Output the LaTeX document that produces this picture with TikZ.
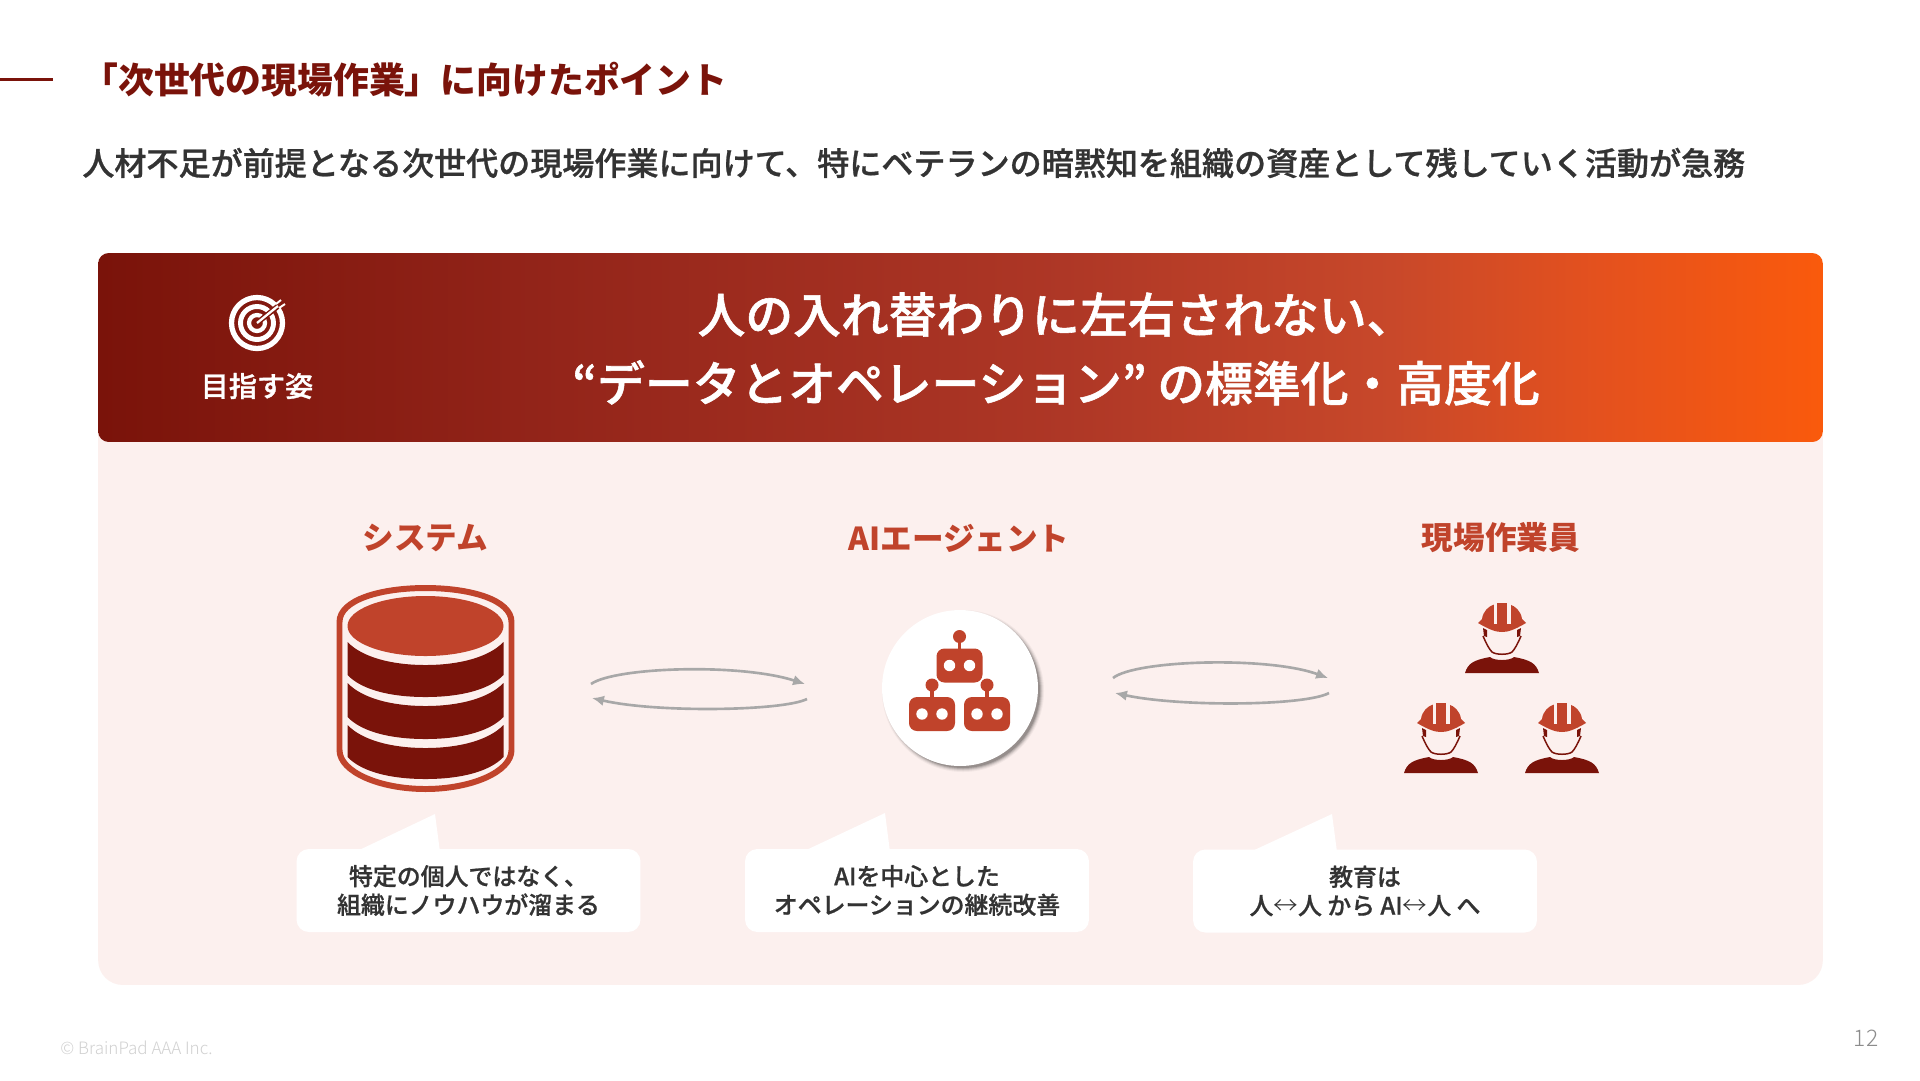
\documentclass[tikz,border=0pt]{standalone}
\usepackage{fontspec}
\setmainfont{Noto Sans CJK JP}
\newfontfamily\mediumjp{Noto Sans CJK JP Medium}[FakeBold=0.8]
\newfontfamily\headjp{Noto Sans CJK JP Medium}[FakeBold=1.2]
\newfontfamily\lightjp{Noto Sans CJK JP Light}
\usetikzlibrary{positioning,arrows.meta}
\definecolor{brick}{HTML}{C0432B}
\definecolor{darkbrick}{HTML}{7A130A}
\definecolor{panelpink}{HTML}{FCF0EE}
\definecolor{bodytext}{HTML}{333333}
\definecolor{loopgray}{HTML}{A8A8A8}
\definecolor{fadea}{HTML}{94251A}
\definecolor{fadeb}{HTML}{AE3726}
\definecolor{fadec}{HTML}{C8482A}
\definecolor{faded}{HTML}{E4511E}
\definecolor{fadee}{HTML}{FA5A0C}
\pgfdeclarehorizontalshading{bannerfade}{100bp}{
  color(0bp)=(darkbrick);
  color(25bp)=(darkbrick);
  color(38.5bp)=(fadea);
  color(53bp)=(fadeb);
  color(62.5bp)=(fadec);
  color(68.5bp)=(faded);
  color(75bp)=(fadee);
  color(100bp)=(fadee)
}
\tikzset{
  looparrow/.style={-{Latex[length=6.8pt,width=6pt]}, line width=1.5pt, color=loopgray},
  headlabel/.style={font=\fontsize{18}{21}\selectfont\bfseries, text=brick, inner sep=0pt},
  callout/.style={fill=white, rounded corners=7pt, minimum width=6.88cm, minimum height=1.66cm, align=center, inner sep=0pt, text=bodytext, font=\mediumjp\fontsize{13.6}{16.3}\selectfont},
  tailfill/.style={fill=white},
  robot/.pic={
    \fill[brick, rounded corners=4.5pt] (-23,-17) rectangle (23,17);
    \fill[brick] (-1.7,-28) rectangle (1.7,-15);
    \fill[brick] (0,-29) circle[radius=6.5];
    \fill[white] (-10,0) circle[radius=5.7];
    \fill[white] (10,0) circle[radius=5.7];
  },
  worker/.pic={
    \fill[brick] (-24,20) -- (-20,16) .. controls (-19,8) and (-13,3) .. (-8,1.5) -- (8,1.5) .. controls (13,3) and (19,8) .. (20,16) -- (24,20) .. controls (12,27) and (6,29) .. (0,29) .. controls (-6,29) and (-12,27) .. (-24,20) -- cycle;
    \fill[brick] (-5,0) rectangle (5,5);
    \fill[panelpink] (-8.5,0) rectangle (-5,21);
    \fill[panelpink] (5,0) rectangle (8.5,21);
    \fill[darkbrick] (-19,25) -- (-15,27) -- (-15,34) -- (-18,33) -- cycle;
    \fill[darkbrick] (19,25) -- (15,27) -- (15,34) -- (18,33) -- cycle;
    \draw[darkbrick, line width=0.85pt] (-19,33) .. controls (-16,40) and (-13,46) .. (-10,49) .. controls (-6,52) and (6,52) .. (10,49) .. controls (13,46) and (16,40) .. (19,33);
    \fill[darkbrick] (-37,70) .. controls (-34,60) and (-28,57) .. (-12,54) .. controls (-8,58) and (8,58) .. (12,54) .. controls (28,57) and (34,60) .. (37,70) -- cycle;
  }
}
\begin{document}
\begin{tikzpicture}[x=0.02cm, y=-0.02cm, >=Latex, every node/.style={inner sep=0pt}]
  \useasboundingbox (0,0) rectangle (1920,1080);
  \fill[white] (0,0) rectangle (1920,1080);

  \draw[darkbrick, line width=1.2pt] (0,79.5) -- (53,79.5);
  \node[anchor=west, text=darkbrick, font=\fontsize{20.4}{24}\selectfont\bfseries] (title) at (82,80) {「次世代の現場作業」に向けたポイント};
  \node[anchor=west, text=bodytext, font=\mediumjp\fontsize{18.25}{22}\selectfont] (subtitle) at (82,163) {人材不足が前提となる次世代の現場作業に向けて、特にベテランの暗黙知を組織の資産として残していく活動が急務};

  \node[fill=panelpink, rounded corners=14pt, minimum width=34.5cm, minimum height=11.6cm] (panel) at (960.5,695) {};
  \node[shading=bannerfade, rounded corners=6pt, minimum width=34.5cm, minimum height=3.78cm] (banner) at (960.5,347.5) {};

  \draw[white, line width=3pt] (257,323) circle[radius=25.5];
  \draw[white, line width=2.8pt] (257,323) circle[radius=16.5];
  \draw[white, line width=2.4pt] (257,323) circle[radius=8];
  \draw[darkbrick!90!brick, line width=3pt] (257,323) -- (282,303);
  \draw[white, line width=1.3pt] (257,323) -- (278,306);
  \draw[white, line width=1.1pt] (276,304) -- (281,300);
  \draw[white, line width=1.1pt] (279,308) -- (285,304);
  \node[text=white, font=\headjp\fontsize{16}{18}\selectfont] (goal) at (257,386) {目指す姿};
  \node[text=white, align=center, font=\headjp\fontsize{27.2}{39}\selectfont] (headline) at (1056,349) {人の入れ替わりに左右されない、\\“データとオペレーション” の標準化・高度化};

  \node[headlabel] (syslabel) at (425.5,538) {システム};
  \node[headlabel] (agentlabel) at (959,538) {AIエージェント};
  \node[headlabel] (stafflabel) at (1501,538) {現場作業員};

  \draw[brick, line width=3.4pt] (339.5,622) .. controls (339.5,600) and (380,588) .. (425.5,588) .. controls (471,588) and (511.5,600) .. (511.5,622) -- (511.5,750) .. controls (511.5,772) and (471,789) .. (425.5,789) .. controls (380,789) and (339.5,772) .. (339.5,750) -- cycle;
  \foreach \ytop/\ybot in {642/675,683/717,725/757}
    \fill[darkbrick] (347.5,\ytop) .. controls (362,\ytop+15) and (391,\ytop+23) .. (425.5,\ytop+23) .. controls (460,\ytop+23) and (489,\ytop+15) .. (503.5,\ytop) -- (503.5,\ybot) .. controls (489,\ybot+15) and (460,\ybot+22) .. (425.5,\ybot+22) .. controls (391,\ybot+22) and (362,\ybot+15) .. (347.5,\ybot) -- cycle;
  \fill[brick] (425.5,626) ellipse[x radius=78, y radius=30];

  \foreach \r/\op in {81/0.04,80/0.06,79/0.09,78/0.13,77/0.16}
    \fill[black, opacity=\op] (963,691) circle[radius=\r];
  \node[circle, fill=white, minimum size=3.12cm] (agent) at (960,688) {};
  \pic at (959.5,665.5) {robot};
  \pic at (932,714) {robot};
  \pic at (987,714) {robot};

  \pic at (1502,603) {worker};
  \pic at (1441,703) {worker};
  \pic at (1562,703) {worker};

  \coordinate (sysout) at (591,684);
  \coordinate (agentin) at (805,684);
  \coordinate (agentback) at (807,699);
  \coordinate (sysin) at (592,698);
  \coordinate (agentout) at (1113,678);
  \coordinate (staffin) at (1328,678);
  \coordinate (staffback) at (1329,693);
  \coordinate (agentret) at (1115,693);
  \draw[looparrow] (sysout) .. controls +(24,-17) and +(-65,-21) .. (agentin);
  \draw[looparrow] (agentback) .. controls +(-24,12) and +(65,15) .. (sysin);
  \draw[looparrow] (agentout) .. controls +(22,-18) and +(-60,-22) .. (staffin);
  \draw[looparrow] (staffback) .. controls +(-24,13) and +(65,14) .. (agentret);

  \fill[tailfill] (355,852) -- (435,814) -- (440,852) -- cycle;
  \fill[tailfill] (802,852) -- (885,813) -- (890,852) -- cycle;
  \fill[tailfill] (1250,852) -- (1332,814) -- (1337,852) -- cycle;
  \node[callout] (systemnote) at (468.5,890.5) {特定の個人ではなく、\\組織にノウハウが溜まる};
  \node[callout] (agentnote) at (917,890.5) {AIを中心とした\\オペレーションの継続改善};
  \node[callout] (staffnote) at (1365,891) {教育は\\人{\lightjp\fontsize{14}{10}\selectfont ↔}人 から AI{\lightjp\fontsize{14}{10}\selectfont ↔}人 へ};

  \node[anchor=west, text=black!18, font=\lightjp\fontsize{9.7}{11}\selectfont] (copyright) at (60,1048) {© BrainPad AAA Inc.};
  \node[text=black!45, font=\lightjp\fontsize{13}{15}\selectfont] (pageno) at (1866,1038) {12};
\end{tikzpicture}
\end{document}
